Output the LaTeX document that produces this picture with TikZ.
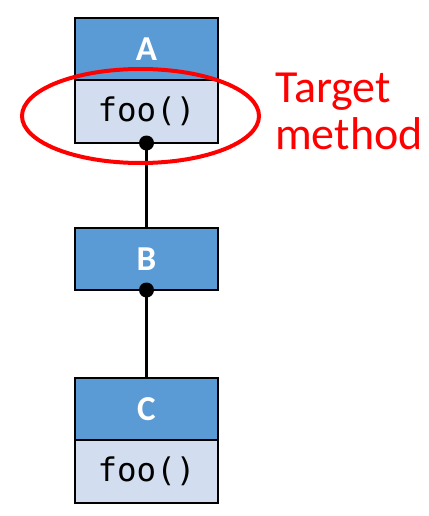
\documentclass[tikz,border=0pt]{standalone}
\usepackage{fontspec}
\setmainfont{Carlito}
\setmonofont{DejaVu Sans Mono}
\usetikzlibrary{positioning}
\definecolor{azulclase}{HTML}{5B9BD5}
\definecolor{azulmetodo}{HTML}{D2DEEF}
\definecolor{rojoobjetivo}{HTML}{FF0000}
\colorlet{colBorde}{black}
\tikzset{
  cajaBase/.style={
    draw=colBorde, line width=2.6pt, outer sep=0pt,
    minimum width=143pt, align=center
  },
  cajaClase/.style={cajaBase, fill=azulclase, minimum height=62pt,
    text=white, font=\fontsize{35}{40}\selectfont\bfseries},
  cajaMetodo/.style={cajaBase, fill=azulmetodo, minimum height=63pt,
    text=black, font=\fontsize{32.5}{36}\selectfont\ttfamily},
  conector/.style={line width=3.5pt, colBorde},
  elipseObjetivo/.style={draw=rojoobjetivo, line width=4pt},
  textoObjetivo/.style={text=rojoobjetivo, align=left, inner sep=0pt,
    font=\fontsize{46}{47}\selectfont},
}
\begin{document}
\begin{tikzpicture}[x=1pt, y=-1pt]
    \useasboundingbox (0,0) rectangle (428,516);

    \node[cajaClase] (claseA) at (146.5,49) {A};
    \node[cajaMetodo, below=0pt of claseA] (metodoA) {foo()};
    \node[cajaClase, below=85pt of metodoA] (claseB) {B};
    \node[cajaClase, below=88pt of claseB] (claseC) {C};
    \node[cajaMetodo, below=0pt of claseC] (metodoC) {foo()};

    \draw[conector] (metodoA.south) -- (claseB.north);
    \draw[conector] (claseB.south) -- (claseC.north);
    \fill[colBorde] (metodoA.south) circle (7.5);
    \fill[colBorde] (claseB.south) circle (7.5);

    % metodo objetivo
    \draw[elipseObjetivo] (140.5,116) ellipse [x radius=118.5, y radius=47];
    \node[textoObjetivo, anchor=north west] (etiqueta) at (275,73) {Target\\method};
  \end{tikzpicture}
\end{document}
